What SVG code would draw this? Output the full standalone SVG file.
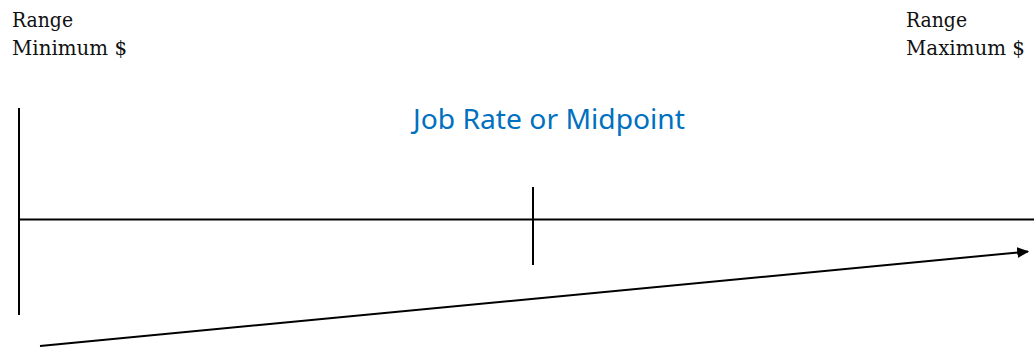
<svg xmlns="http://www.w3.org/2000/svg" width="1034" height="347" viewBox="0 0 1034 347">
<style>
.lbl{font-family:"DejaVu Serif","Liberation Serif",serif;font-size:21px;fill:#111}
.title{font-family:"Noto Sans","Liberation Sans",sans-serif;font-size:28px;fill:#0070C0}
.ln{stroke:#000;stroke-width:2;fill:none}
</style>
<defs>
<marker id="ah" viewBox="0 0 10 10" refX="9" refY="5" markerWidth="6" markerHeight="5.5" orient="auto" markerUnits="strokeWidth" preserveAspectRatio="none">
<path d="M0,0 L10,5 L0,10 Z" fill="#000"/>
</marker>
</defs>
<g id="range-min">
<text class="lbl" x="12" y="27" textLength="61" lengthAdjust="spacingAndGlyphs">Range</text>
<text class="lbl" x="12" y="55" textLength="115" lengthAdjust="spacingAndGlyphs">Minimum $</text>
</g>
<g id="range-max">
<text class="lbl" x="906" y="27" textLength="61" lengthAdjust="spacingAndGlyphs">Range</text>
<text class="lbl" x="906" y="55" textLength="119" lengthAdjust="spacingAndGlyphs">Maximum $</text>
</g>
<g id="midpoint">
<text class="title" x="413" y="129" textLength="272" lengthAdjust="spacingAndGlyphs">Job Rate or Midpoint</text>
</g>
<g id="connectors">
<line class="ln" x1="19" y1="108" x2="19" y2="315"/>
<line class="ln" x1="19" y1="219.5" x2="1034" y2="219.5"/>
<line class="ln" x1="533" y1="187" x2="533" y2="265"/>
<line class="ln" x1="40" y1="346" x2="1028" y2="251.5" marker-end="url(#ah)"/>
</g>
</svg>
